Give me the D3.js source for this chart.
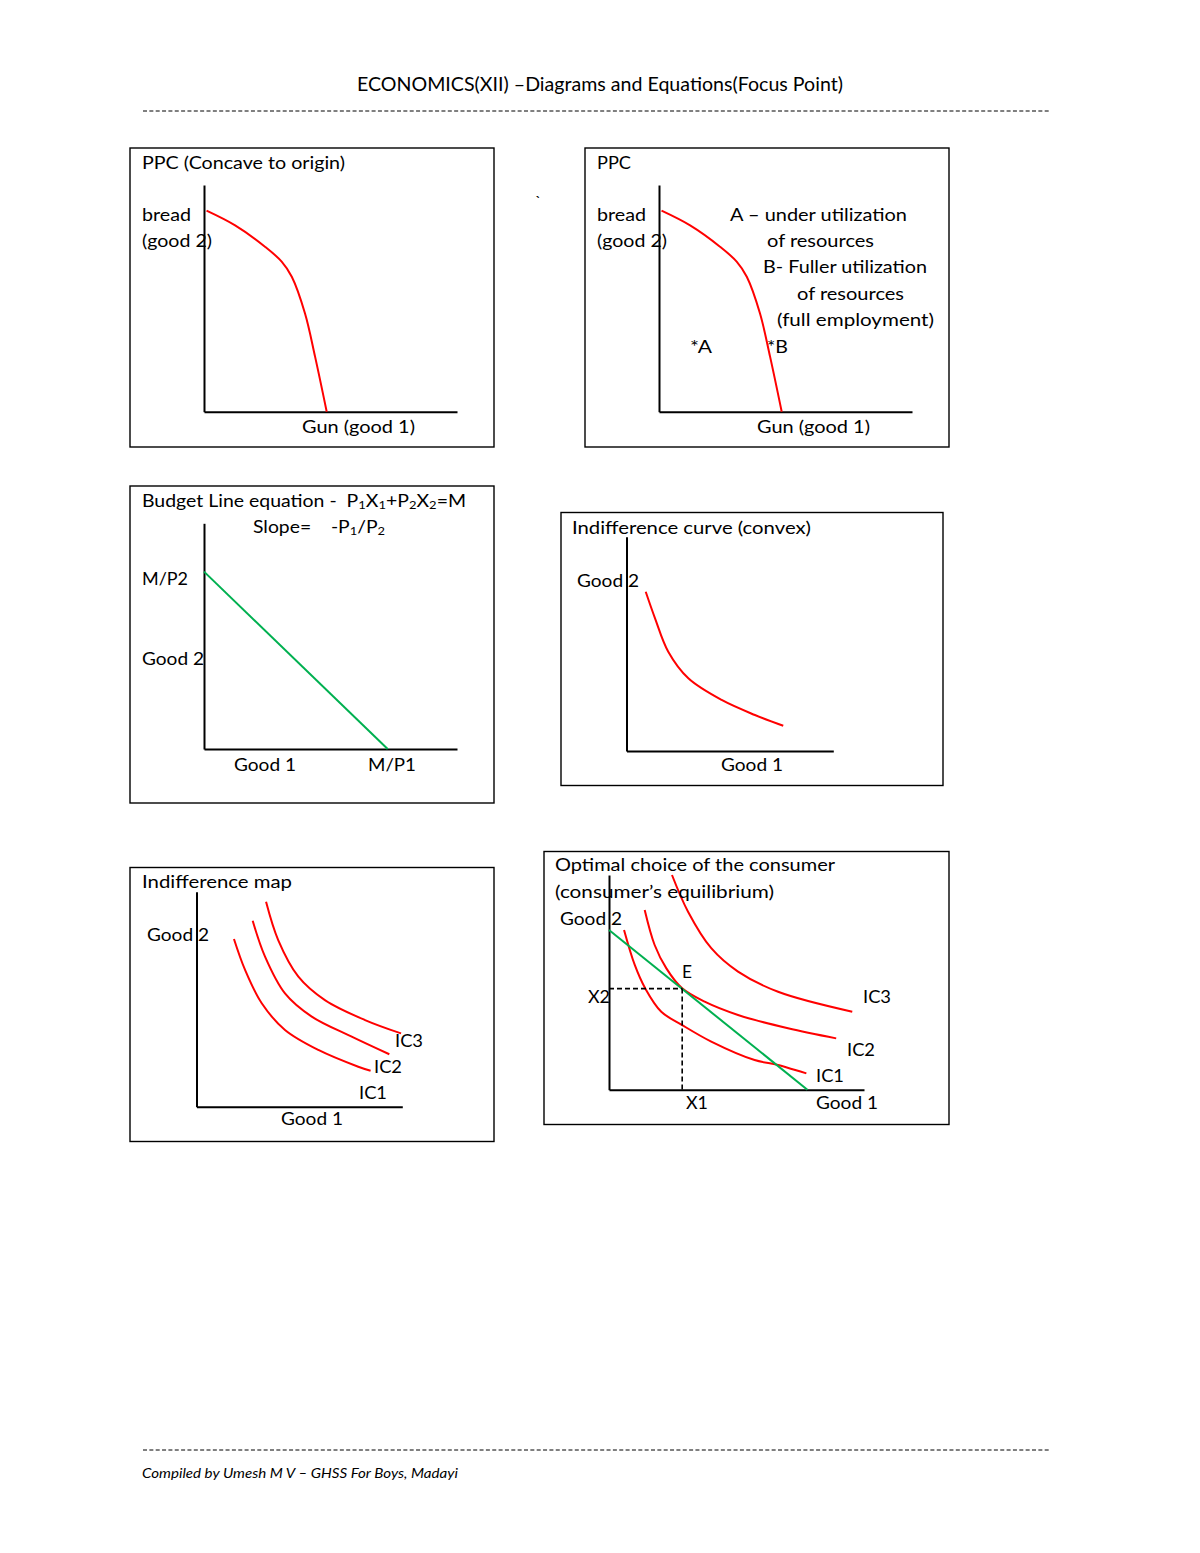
<!DOCTYPE html>
<html><head><meta charset="utf-8">
<script src="https://cdn.jsdelivr.net/npm/d3@7"></script>
<style>
html,body{margin:0;padding:0;background:#fff;}
svg{display:block;}
text{font-family:Lato,"Noto Sans",sans-serif;fill:#000;white-space:pre;}
</style></head><body>
<script>
// ---------- DATA (in 0-100 diagram units) ----------
const ppcGun   = [1, 12.3, 24.1, 30.7, 34.7, 39.9, 43.9, 48.5];
const ppcBread = [88.7, 82.2, 72.8, 66.2, 59.5, 43.4, 24.3, 0];

const budgetIntercepts = {good1: 72.6, good2: 78.6};   // M/P1, M/P2

const icGood1 = [9.3, 13.8, 20.2, 29.9, 46.0, 62.1, 75.8];
const icGood2 = [74.3, 61.9, 46.3, 33.9, 23.8, 16.8, 11.8];

const mapIC1 = [[18.2,78.0],[23.6,63.6],[31.7,48.1],[43.0,35.7],[59.2,26.4],[78.6,18.6],[84.6,16.7]];
const mapIC2 = [[27.3,86.5],[33.3,69.8],[43.0,52.7],[56.0,41.9],[75.4,32.6],[93.7,24.4]];
const mapIC3 = [[33.8,95.3],[39.7,77.5],[49.5,60.5],[62.4,49.6],[81.9,40.3],[99.4,34.1]];
const mapLabels = ["IC1","IC2","IC3"];

const eqBudget = {good1: 77.8, good2: 74.4};
const eqPoint = [28.7, 47.1];
const eqIC1 = [[5.9,74.4],[10.1,58.1],[14.2,47.2],[20.5,36.3],[28.7,30.1],[40.1,22.4],[57.1,13.8],[66.3,11.5],[77.4,7.6]];
const eqIC2 = [[14.0,83.7],[17.9,67.4],[22.5,56.5],[28.7,47.2],[37.5,41.0],[50.6,34.8],[70.2,28.6],[89.1,23.9]];
const eqIC3 = [[24.7,100],[31.0,82.9],[40.1,65.9],[50.6,55.0],[66.3,45.6],[95.4,36.3]];

const headerTitle = "ECONOMICS(XII) \u2013Diagrams and Equations(Focus Point)";
const footerText = "Compiled by Umesh M V \u2013 GHSS For Boys, Madayi";

// ---------- DRAWING ----------
const RED = "#ff0000", GREEN = "#00b050";
const FS = 18;
const svg = d3.select("body").append("svg").attr("width",1200).attr("height",1553);
svg.append("rect").attr("width",1200).attr("height",1553).attr("fill","#fff");

function txt(g, s, x, y, opt={}) {
  const t = g.append("text").attr("x",x).attr("y",y).attr("font-size",opt.size||FS).text(s);
  if (opt.anchor) t.attr("text-anchor",opt.anchor);
  if (opt.italic) t.attr("font-style","italic");
  if (opt.len) t.attr("textLength",opt.len).attr("lengthAdjust","spacingAndGlyphs");
  return t;
}
function dashRule(y){
  svg.append("line").attr("x1",143).attr("x2",1051).attr("y1",y).attr("y2",y)
    .attr("stroke","#000").attr("stroke-width",1).attr("stroke-dasharray","4,2.35");
}
function panel(box, origin, xEnd, yTop){
  const g = svg.append("g");
  g.append("rect").attr("x",box[0]).attr("y",box[1]).attr("width",box[2]-box[0]).attr("height",box[3]-box[1])
    .attr("fill","none").attr("stroke","#000").attr("stroke-width",1.4);
  const x = d3.scaleLinear().domain([0,100]).range([origin[0], xEnd]);
  const y = d3.scaleLinear().domain([0,100]).range([origin[1], yTop]);
  g.append("g").attr("transform",`translate(0,${origin[1]})`)
    .call(d3.axisBottom(x).tickValues([]).tickSizeOuter(0))
    .call(a=>a.select(".domain").attr("stroke","#000").attr("stroke-width",2));
  g.append("g").attr("transform",`translate(${origin[0]},0)`)
    .call(d3.axisLeft(y).tickValues([]).tickSizeOuter(0))
    .call(a=>a.select(".domain").attr("stroke","#000").attr("stroke-width",2));
  return {g,x,y};
}
function curve(p, pts, color){
  const line = d3.line().x(d=>p.x(d[0])).y(d=>p.y(d[1])).curve(d3.curveCatmullRom.alpha(0.5));
  p.g.append("path").attr("d",line(pts)).attr("fill","none").attr("stroke",color).attr("stroke-width",2);
}
function straight(p, pts, color, dash){
  const line = d3.line().x(d=>p.x(d[0])).y(d=>p.y(d[1]));
  const path = p.g.append("path").attr("d",line(pts)).attr("fill","none").attr("stroke",color).attr("stroke-width",dash?1.6:2);
  if (dash) path.attr("stroke-dasharray",dash);
}

// header / footer
txt(svg, headerTitle, 600, 91, {size:19, anchor:"middle", len:486});
dashRule(111);
dashRule(1450);
txt(svg, footerText, 142, 1478, {size:13, italic:true, len:316});
txt(svg, "`", 535, 207, {size:16});

const ppcPts = ppcGun.map((v,i)=>[v, ppcBread[i]]);

// Panel 1: PPC concave
{
  const p = panel([130,148,494,447],[204,411.7],457,185);
  curve(p, ppcPts, RED);
  txt(p.g,"PPC (Concave to origin)",142,169,{len:203});
  txt(p.g,"bread",142,221,{len:49});
  txt(p.g,"(good 2)",142,247,{len:70});
  txt(p.g,"Gun (good 1)",302,433,{len:113});
}
// Panel 2: PPC with A, B
{
  const p = panel([585,148,949,447],[659,411.7],912,185);
  curve(p, ppcPts, RED);
  txt(p.g,"PPC",597,169,{len:34});
  txt(p.g,"bread",597,221,{len:49});
  txt(p.g,"(good 2)",597,247,{len:70});
  txt(p.g,"A \u2013 under utilization",730,221,{len:177});
  txt(p.g,"of resources",767,247,{len:107});
  txt(p.g,"B- Fuller utilization",763,273,{len:164});
  txt(p.g,"of resources",797,300,{len:107});
  txt(p.g,"(full employment)",777,326,{len:157});
  txt(p.g,"*A",690,353,{len:22});
  txt(p.g,"*B",767,353,{len:21});
  txt(p.g,"Gun (good 1)",757,433,{len:113});
}
// Panel 3: Budget line
{
  const p = panel([130,486,494,803],[204,749],457,523.3);
  straight(p, [[0,budgetIntercepts.good2],[budgetIntercepts.good1,0]], GREEN);
  const t = txt(p.g,"",142,507,{len:324});
  t.append("tspan").text("Budget Line equation -  P");
  const parts = [["1","X"],["1","+P"],["2","X"],["2","=M"]];
  parts.forEach(([sub,rest])=>{
    t.append("tspan").attr("font-size",12).attr("dy",2).text(sub);
    t.append("tspan").attr("dy",-2).text(rest);
  });
  const s = txt(p.g,"",253,533,{len:132});
  s.append("tspan").text("Slope=\u00a0\u00a0\u00a0\u00a0-P");
  s.append("tspan").attr("font-size",12).attr("dy",2).text("1");
  s.append("tspan").attr("dy",-2).text("/P");
  s.append("tspan").attr("font-size",12).attr("dy",2).text("2");
  txt(p.g,"M/P2",142,585,{len:46});
  txt(p.g,"Good 2",142,665,{len:62});
  txt(p.g,"Good 1",234,771,{len:62});
  txt(p.g,"M/P1",368,771,{len:48});
}
// Panel 4: Indifference curve
{
  const p = panel([561,512.5,943,785.5],[626.5,751],833.3,536.7);
  curve(p, icGood1.map((v,i)=>[v,icGood2[i]]), RED);
  txt(p.g,"Indifference curve (convex)",572,534,{len:239});
  txt(p.g,"Good 2",577,587,{len:62});
  txt(p.g,"Good 1",721,771,{len:62});
}
// Panel 5: Indifference map
{
  const p = panel([130,867.5,494,1141.5],[196.5,1106.7],402.3,891.7);
  [mapIC1,mapIC2,mapIC3].forEach(c=>curve(p,c,RED));
  txt(p.g,"Indifference map",142,888,{len:150});
  txt(p.g,"Good 2",147,941,{len:62});
  txt(p.g,mapLabels[2],395,1047,{len:28});
  txt(p.g,mapLabels[1],374,1073,{len:28});
  txt(p.g,mapLabels[0],359,1099,{len:28});
  txt(p.g,"Good 1",281,1125,{len:62});
}
// Panel 6: Consumer equilibrium
{
  const p = panel([544,851.5,949,1124.5],[609,1089.7],864,875);
  [eqIC1,eqIC2,eqIC3].forEach(c=>curve(p,c,RED));
  straight(p, [[0,eqBudget.good2],[eqBudget.good1,0]], GREEN);
  straight(p, [[0,eqPoint[1]],eqPoint], "#000", "5,3");
  straight(p, [eqPoint,[eqPoint[0],0]], "#000", "5,3");
  txt(p.g,"Optimal choice of the consumer",555,871,{len:280});
  txt(p.g,"(consumer\u2019s equilibrium)",555,898,{len:219});
  txt(p.g,"Good 2",560,925,{len:62});
  txt(p.g,"E",682,978,{len:10});
  txt(p.g,"X2",588,1003,{len:22});
  txt(p.g,"IC3",863,1003,{len:28});
  txt(p.g,"IC2",847,1056,{len:28});
  txt(p.g,"IC1",816,1082,{len:28});
  txt(p.g,"X1",686,1109,{len:22});
  txt(p.g,"Good 1",816,1109,{len:62});
}
</script>
</body></html>
